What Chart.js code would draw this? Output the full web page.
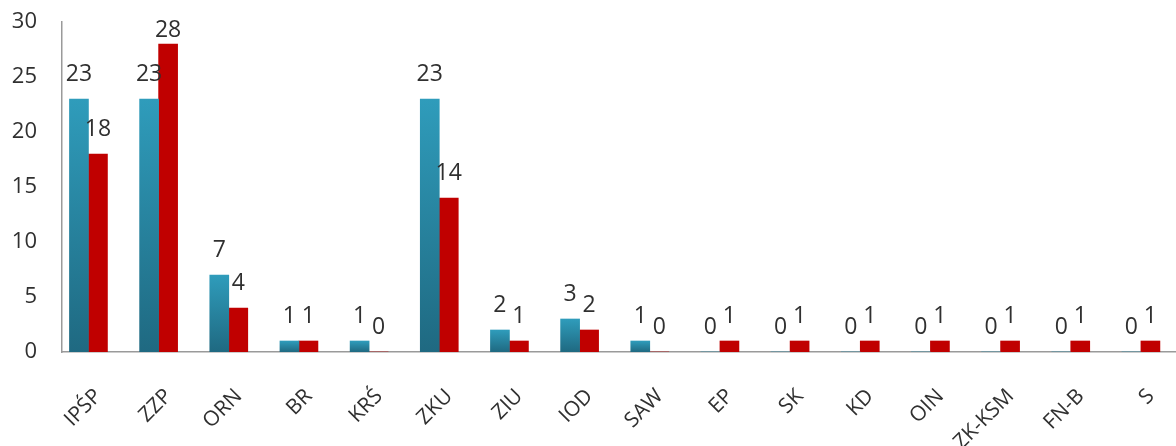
<!DOCTYPE html>
<html>
<head>
<meta charset="utf-8">
<script src="https://cdn.jsdelivr.net/npm/chart.js@4"></script>
<style>
  html, body { margin: 0; padding: 0; background: #fff; }
  #wrap { width: 1176px; height: 446px; }
</style>
</head>
<body>
<div id="wrap"><canvas id="chart" width="1176" height="446"></canvas></div>
<script>
// --- DATA ---
const categories = ['IPŚP', 'ZZP', 'ORN', 'BR', 'KRŚ', 'ZKU', 'ZIU', 'IOD', 'SAW', 'EP', 'SK', 'KD', 'OIN', 'ZK-KSM', 'FN-B', 'S'];
const blueValues = [23, 23, 7, 1, 1, 23, 2, 3, 1, 0, 0, 0, 0, 0, 0, 0];
const redValues  = [18, 28, 4, 1, 0, 14, 1, 2, 0, 1, 1, 1, 1, 1, 1, 1];
const yTicks = [0, 5, 10, 15, 20, 25, 30];

const FONT = "'Open Sans', sans-serif";
const TEXT = '#303030';

// gradient running over the bar itself, light on top
function barGradient(c) {
    const chart = c.chart;
    if (!chart.chartArea || c.parsed === undefined) return '#2b8fac';
    const yScale = chart.scales.y;
    const top = yScale.getPixelForValue(c.parsed.y);
    const bottom = yScale.getPixelForValue(0);
    if (bottom - top < 1) return '#2b8fac';
    const g = chart.ctx.createLinearGradient(0, top, 0, bottom);
    g.addColorStop(0, '#2f9cbb');
    g.addColorStop(1, '#1f6981');
    return g;
}

// value labels above each bar
const valueLabels = {
    id: 'valueLabels',
    afterDatasetsDraw(chart) {
        const ctx = chart.ctx;
        ctx.save();
        ctx.font = '23px ' + FONT;
        ctx.fillStyle = TEXT;
        ctx.textAlign = 'center';
        ctx.textBaseline = 'bottom';
        chart.data.datasets.forEach((ds, di) => {
            const meta = chart.getDatasetMeta(di);
            meta.data.forEach((bar, i) => {
                let y = bar.y - 13;
                if (y < 42) y = 42;
                ctx.fillText(String(ds.data[i].y), bar.x, y);
            });
        });
        ctx.restore();
    }
};

const ctx = document.getElementById('chart').getContext('2d');
new Chart(ctx, {
    type: 'bar',
    data: {
        datasets: [
            {
                label: 'A',
                data: blueValues.map((v, i) => ({ x: i, y: v })),
                backgroundColor: barGradient,
                barThickness: 19,
                borderWidth: 0
            },
            {
                label: 'B',
                data: redValues.map((v, i) => ({ x: i, y: v })),
                backgroundColor: '#c00000',
                barThickness: 19,
                borderWidth: 0
            }
        ]
    },
    options: {
        responsive: false,
        animation: false,
        layout: { padding: { top: 22, right: 0, left: 0, bottom: 0 } },
        plugins: { legend: { display: false }, tooltip: { enabled: false } },
        scales: {
            x: {
                type: 'linear',
                min: -0.377,
                max: 15.5,
                offset: false,
                grid: { display: false },
                border: { display: true, color: '#9a9a9a', width: 1.5 },
                afterBuildTicks: s => { s.ticks = categories.map((c, i) => ({ value: i })); },
                afterFit: s => { s.height = 94; s.paddingLeft = 0; s.paddingRight = 0; },
                ticks: {
                    autoSkip: false,
                    maxRotation: 45,
                    minRotation: 45,
                    padding: 24,
                    labelOffset: 10,
                    color: TEXT,
                    font: { family: FONT, size: 21 },
                    callback: v => categories[v]
                }
            },
            y: {
                min: 0,
                max: 30,
                grid: { display: false },
                border: { display: true, color: '#9a9a9a', width: 1.5 },
                afterBuildTicks: s => { s.ticks = yTicks.map(v => ({ value: v })); },
                afterFit: s => { s.width = 62; s.paddingTop = 0; s.paddingBottom = 0; },
                ticks: {
                    padding: 17,
                    color: TEXT,
                    font: { family: FONT, size: 22 }
                }
            }
        }
    },
    plugins: [valueLabels]
});
</script>
</body>
</html>
